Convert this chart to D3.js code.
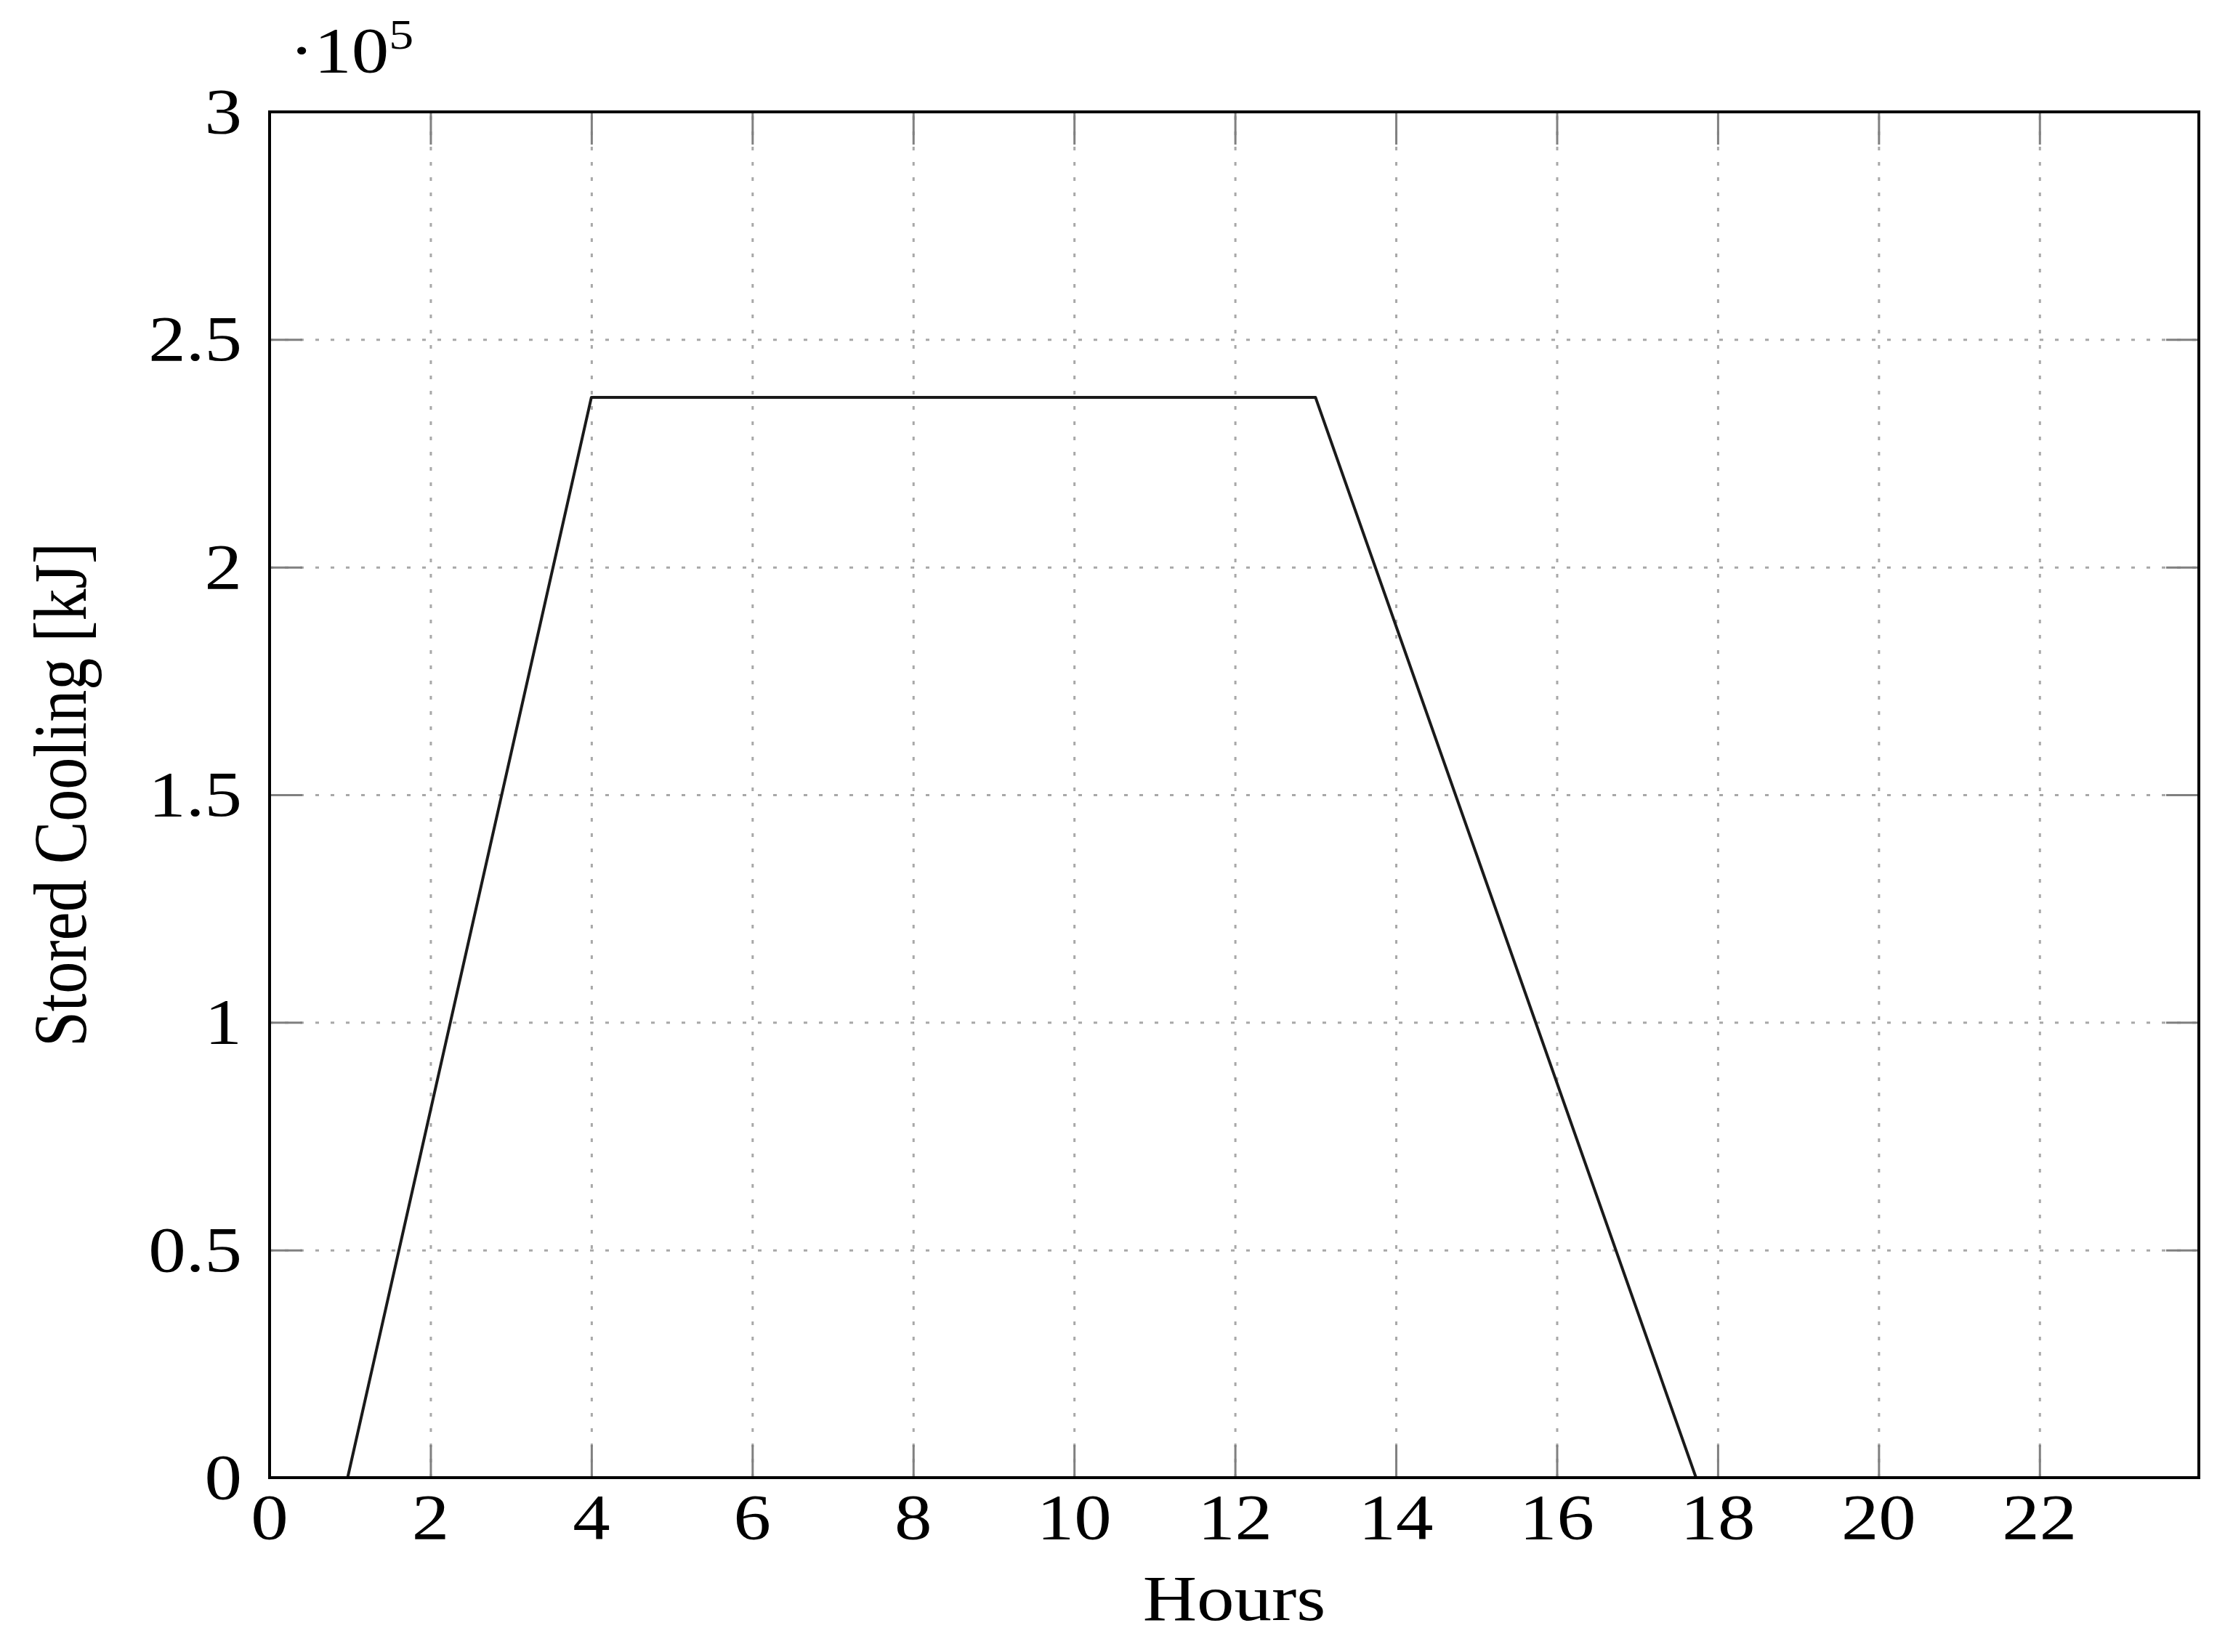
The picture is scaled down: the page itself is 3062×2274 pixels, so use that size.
<!DOCTYPE html>
<html>
<head>
<meta charset="utf-8">
<script src="https://cdn.jsdelivr.net/npm/d3@7"></script>
<style>
	body { margin: 0; background: #fff; }
	text { font-family: "Liberation Serif", "DejaVu Serif", serif; fill: #000; }
</style>
</head>
<body>
<div id="chart-container"></div>
<script>
// chart data
var hours = [0, 0.97, 4, 13, 17.73, 23.98];
var storedCooling = [0, 0, 237300, 237300, 0, 0];
var xTicks = [0, 2, 4, 6, 8, 10, 12, 14, 16, 18, 20, 22];
var yTicks = [0, 50000, 100000, 150000, 200000, 250000, 300000];
var yTickLabels = ['0', '0.5', '1', '1.5', '2', '2.5', '3'];

var width, height, left, top_, right, bottom, fontSize, stretch, tickLen,
	svg, x, y, plot, line, points;

width = 3062;
height = 2274;
left = 371;
right = 3026;
top_ = 154;
bottom = 2034;
fontSize = 88;
stretch = 1.17; // the picture is a bit wider than tall, so the text is too
tickLen = 45;

points = hours.map(function (h, i) { return { h: h, v: storedCooling[i] }; });

svg = d3.select(document.getElementById('chart-container'))
	.append('svg')
	.attr('width', width)
	.attr('height', height);

x = d3.scaleLinear().domain([0, 23.98]).range([left, right]);
y = d3.scaleLinear().domain([0, 300000]).range([bottom, top_]);

//grid, dotted gray
svg.append('g')
	.attr('class', 'grid-x')
	.attr('transform', 'translate(0,' + bottom + ')')
	.call(d3.axisBottom(x).tickValues(xTicks).tickSize(-(bottom - top_)).tickFormat(''))
	.call(function (g) { g.select('.domain').remove(); });

svg.append('g')
	.attr('class', 'grid-y')
	.attr('transform', 'translate(' + left + ',0)')
	.call(d3.axisLeft(y).tickValues(yTicks).tickSize(-(right - left)).tickFormat(''))
	.call(function (g) { g.select('.domain').remove(); });

svg.selectAll('.grid-x line, .grid-y line')
	.attr('stroke', '#a8a8a8')
	.attr('stroke-width', 3)
	.attr('stroke-dasharray', '5 16');

//tick marks on all four sides, pointing inwards
[
	[d3.axisBottom(x).tickValues(xTicks), 'translate(0,' + bottom + ')'],
	[d3.axisTop(x).tickValues(xTicks), 'translate(0,' + top_ + ')'],
	[d3.axisLeft(y).tickValues(yTicks), 'translate(' + left + ',0)'],
	[d3.axisRight(y).tickValues(yTicks), 'translate(' + right + ',0)']
].forEach(function (a) {
	svg.append('g')
		.attr('class', 'ticks')
		.attr('transform', a[1])
		.call(a[0].tickSize(-tickLen).tickFormat(''))
		.call(function (g) { g.select('.domain').remove(); })
		.selectAll('line')
		.attr('stroke', '#808080')
		.attr('stroke-width', 3);
});

//the series
line = d3.line()
	.x(function (d) { return x(d.h); })
	.y(function (d) { return y(d.v); });

svg.append('path')
	.datum(points)
	.attr('fill', 'none')
	.attr('stroke', '#1a1a1a')
	.attr('stroke-width', 4)
	.attr('stroke-linejoin', 'round')
	.attr('d', line);

//axis frame
svg.append('rect')
	.attr('x', left)
	.attr('y', top_)
	.attr('width', right - left)
	.attr('height', bottom - top_)
	.attr('fill', 'none')
	.attr('stroke', '#000')
	.attr('stroke-width', 4);

//x tick labels
svg.append('g')
	.selectAll('text')
	.data(xTicks)
	.enter()
	.append('text')
	.attr('transform', function (d) { return 'translate(' + x(d) + ',2118) scale(' + stretch + ',1)'; })
	.attr('text-anchor', 'middle')
	.attr('font-size', fontSize)
	.text(function (d) { return d; });

//y tick labels
svg.append('g')
	.selectAll('text')
	.data(yTicks)
	.enter()
	.append('text')
	.attr('transform', function (d) { return 'translate(333,' + (y(d) + 29) + ') scale(' + stretch + ',1)'; })
	.attr('text-anchor', 'end')
	.attr('font-size', fontSize)
	.text(function (d, i) { return yTickLabels[i]; });

//axis labels
svg.append('text')
	.attr('transform', 'translate(' + (left + right) / 2 + ',2230) scale(' + stretch + ',1)')
	.attr('text-anchor', 'middle')
	.attr('font-size', fontSize)
	.text('Hours');

svg.append('text')
	.attr('transform', 'translate(118,' + (top_ + bottom) / 2 + ') rotate(-90) scale(1,' + stretch + ')')
	.attr('text-anchor', 'middle')
	.attr('font-size', fontSize)
	.text('Stored Cooling [kJ]');

//the scale factor above the y axis
var scaleLabel = svg.append('text')
	.attr('transform', 'translate(398,99) scale(' + stretch + ',1)')
	.attr('font-size', fontSize);

scaleLabel.append('tspan').text('\u00b710');
scaleLabel.append('tspan')
	.attr('font-size', 58)
	.attr('dy', -32)
	.text('5');
</script>
</body>
</html>
